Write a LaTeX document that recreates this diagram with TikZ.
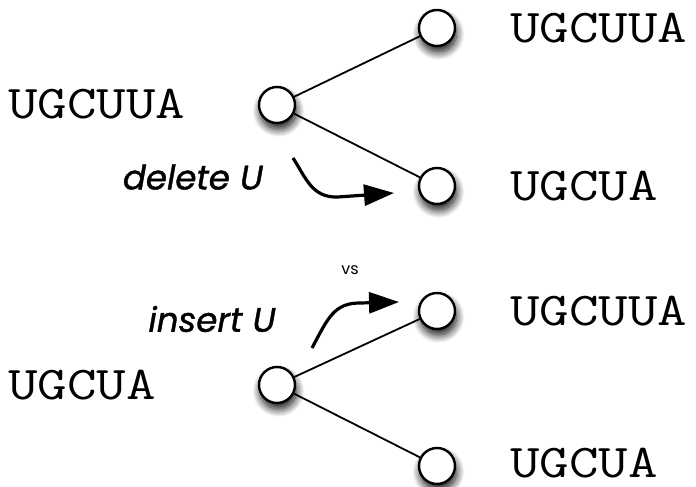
\documentclass[tikz,border=0pt]{standalone}
\usepackage{fontspec}
\setmainfont{Liberation Sans}
\newfontfamily\labfont[ItalicFeatures={FakeBold=1.2}]{Poppins}
\usetikzlibrary{shadows.blur,arrows.meta}
\begin{document}
\begin{tikzpicture}[x=1pt,y=-1pt,
  vert/.style={circle,draw,line width=2.4pt,fill=white,minimum size=36pt,inner sep=0pt,
    blur shadow={shadow xshift=1.5pt,shadow yshift=-6pt,shadow blur radius=8pt,shadow blur steps=14,shadow opacity=95}},
  seq/.style={font=\ttfamily\fontsize{47}{47}\selectfont,inner sep=0pt,xscale=1.22,transform shape},
  edge/.style={line width=1.8pt},
  lab/.style={font=\labfont\itshape\fontsize{34}{34}\selectfont,inner sep=0pt},
  bendarrow/.style={line width=3.2pt,-{Triangle[length=30pt,width=21pt]}}]
\useasboundingbox (0,0) rectangle (696,487);
% top tree
\node[vert] (r1) at (277,105) {};
\node[vert] (a1) at (437,28) {};
\node[vert] (b1) at (437,186) {};
\draw[edge] (r1) -- (a1);
\draw[edge] (r1) -- (b1);
% bottom tree
\node[vert] (r2) at (277,385) {};
\node[vert] (a2) at (437,311) {};
\node[vert] (b2) at (437,466) {};
\draw[edge] (r2) -- (a2);
\draw[edge] (r2) -- (b2);
% sequences
\node[seq,anchor=west] (s1) at (8,104) {UGCUUA};
\node[seq,anchor=west] (s2) at (510,28) {UGCUUA};
\node[seq,anchor=west] (s3) at (510,186) {UGCUA};
\node[seq,anchor=west] (s4) at (510,311) {UGCUUA};
\node[seq,anchor=west] (s5) at (8,385) {UGCUA};
\node[seq,anchor=west] (s6) at (510,463) {UGCUA};
% labels
\node[lab] (del) at (193,177) {delete U};
\node[lab] (ins) at (212,319) {insert U};
\node[font=\labfont\fontsize{16}{16}\selectfont,inner sep=0pt] (vs) at (350,270) {vs};
% arrows
\coordinate (d0) at (293,158);
\coordinate (d1) at (394,193);
\draw[bendarrow] (d0) .. controls (306,178) and (312,198) .. (338,197) -- (d1);
\coordinate (i0) at (312,348);
\coordinate (i1) at (399,302);
\draw[bendarrow] (i0) .. controls (328,318) and (334,303) .. (360,303) -- (i1);
\end{tikzpicture}
\end{document}
